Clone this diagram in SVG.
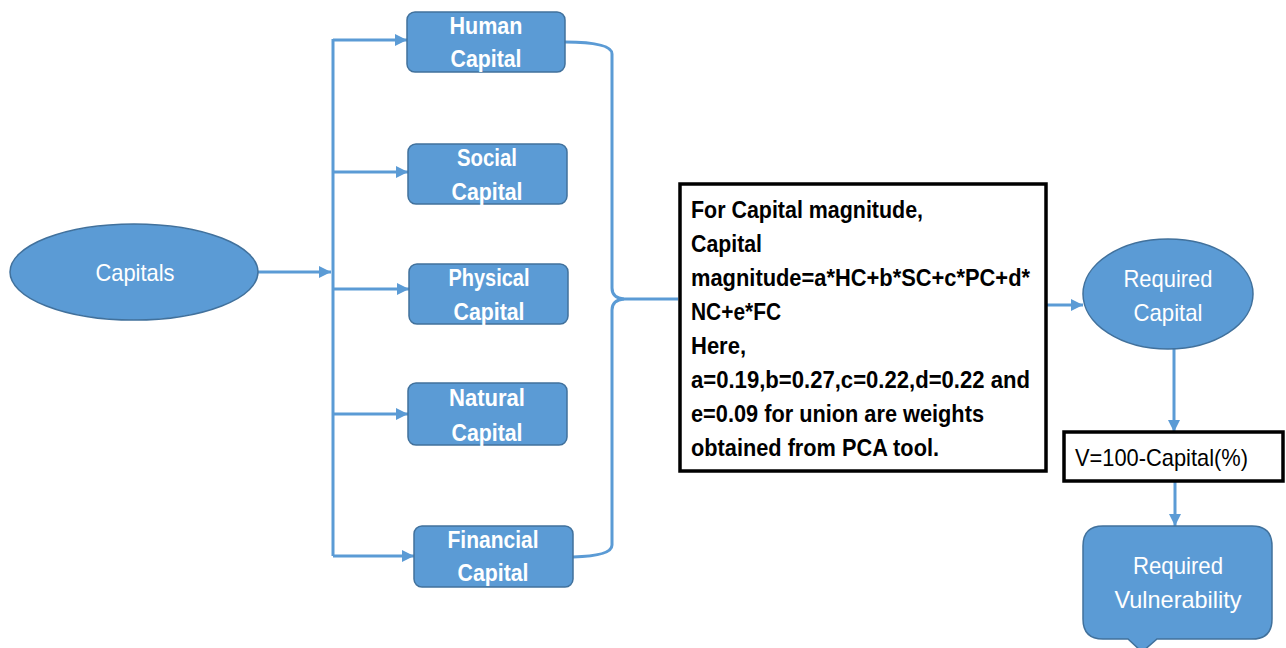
<svg xmlns="http://www.w3.org/2000/svg" width="1286" height="648" viewBox="0 0 1286 648">
<defs>
<marker id="ah" markerUnits="userSpaceOnUse" markerWidth="14" markerHeight="14" refX="12" refY="7" orient="auto">
<path d="M0,1 L12,7 L0,13 Z" fill="#5B9BD5"/>
</marker>
<style>
.node{fill:#5B9BD5;stroke:#41719C;stroke-width:1.5}
.box{fill:#fff;stroke:#000;stroke-width:3.5}
.con{fill:none;stroke:#5B9BD5;stroke-width:3}
.wb{font-family:"Liberation Sans",Arial,sans-serif;font-weight:bold;font-size:24px;fill:#fff;text-anchor:middle}
.wr{font-family:"Liberation Sans",Arial,sans-serif;font-size:24px;fill:#fff;text-anchor:middle}
.kb{font-family:"Liberation Sans",Arial,sans-serif;font-weight:bold;font-size:23.5px;fill:#000}
.kr{font-family:"Liberation Sans",Arial,sans-serif;font-size:24px;fill:#000}
</style>
</defs>
<rect width="1286" height="648" fill="#fff"/>
<g id="connectors">
<path class="con" d="M258,272 L331,272" marker-end="url(#ah)"/>
<path class="con" d="M333,39 L333,556"/>
<path class="con" d="M333,40 L407,40" marker-end="url(#ah)"/>
<path class="con" d="M333,172 L408,172" marker-end="url(#ah)"/>
<path class="con" d="M333,289 L409,289" marker-end="url(#ah)"/>
<path class="con" d="M333,414 L408,414" marker-end="url(#ah)"/>
<path class="con" d="M333,556 L414,556" marker-end="url(#ah)"/>
<path class="con" d="M565,42 Q612,42 612,54 L612,288 Q612,298 624,299 L678,299"/>
<path class="con" d="M573,557 Q612,556 612,545 L612,310 Q612,300 624,299"/>
<path class="con" d="M1046,305 L1083,305" marker-end="url(#ah)"/>
<path class="con" d="M1174,348 L1174,432" marker-end="url(#ah)"/>
<path class="con" d="M1175,482 L1175,526" marker-end="url(#ah)"/>
</g>
<g id="capitals">
<ellipse class="node" cx="134" cy="272" rx="124" ry="48"/>
<text class="wr" x="135" y="281" textLength="79" lengthAdjust="spacingAndGlyphs">Capitals</text>
</g>
<g id="human">
<rect class="node" x="407" y="12" width="158" height="60" rx="8"/>
<text class="wb" x="486" y="34" textLength="73" lengthAdjust="spacingAndGlyphs">Human</text>
<text class="wb" x="486" y="67" textLength="71" lengthAdjust="spacingAndGlyphs">Capital</text>
</g>
<g id="social">
<rect class="node" x="408" y="144" width="159" height="60" rx="8"/>
<text class="wb" x="487" y="166" textLength="60" lengthAdjust="spacingAndGlyphs">Social</text>
<text class="wb" x="487" y="200" textLength="71" lengthAdjust="spacingAndGlyphs">Capital</text>
</g>
<g id="physical">
<rect class="node" x="409" y="264" width="159" height="60" rx="8"/>
<text class="wb" x="489" y="286" textLength="81" lengthAdjust="spacingAndGlyphs">Physical</text>
<text class="wb" x="489" y="320" textLength="71" lengthAdjust="spacingAndGlyphs">Capital</text>
</g>
<g id="natural">
<rect class="node" x="408" y="383" width="159" height="62" rx="8"/>
<text class="wb" x="487" y="406" textLength="76" lengthAdjust="spacingAndGlyphs">Natural</text>
<text class="wb" x="487" y="441" textLength="71" lengthAdjust="spacingAndGlyphs">Capital</text>
</g>
<g id="financial">
<rect class="node" x="414" y="526" width="159" height="61" rx="8"/>
<text class="wb" x="493" y="548" textLength="91" lengthAdjust="spacingAndGlyphs">Financial</text>
<text class="wb" x="493" y="581" textLength="71" lengthAdjust="spacingAndGlyphs">Capital</text>
</g>
<g id="formula">
<rect class="box" x="680" y="184" width="366" height="287"/>
<text class="kb" x="691" y="218" textLength="232" lengthAdjust="spacingAndGlyphs">For Capital magnitude,</text>
<text class="kb" x="691" y="252" textLength="71" lengthAdjust="spacingAndGlyphs">Capital</text>
<text class="kb" x="691" y="286" textLength="339" lengthAdjust="spacingAndGlyphs">magnitude=a*HC+b*SC+c*PC+d*</text>
<text class="kb" x="691" y="320" textLength="90" lengthAdjust="spacingAndGlyphs">NC+e*FC</text>
<text class="kb" x="691" y="354" textLength="55" lengthAdjust="spacingAndGlyphs">Here,</text>
<text class="kb" x="691" y="388" textLength="339" lengthAdjust="spacingAndGlyphs">a=0.19,b=0.27,c=0.22,d=0.22 and</text>
<text class="kb" x="691" y="422" textLength="293" lengthAdjust="spacingAndGlyphs">e=0.09 for union are weights</text>
<text class="kb" x="691" y="456" textLength="248" lengthAdjust="spacingAndGlyphs">obtained from PCA tool.</text>
</g>
<g id="required-capital">
<ellipse class="node" cx="1168" cy="294" rx="85" ry="55"/>
<text class="wr" x="1168" y="287" textLength="89" lengthAdjust="spacingAndGlyphs">Required</text>
<text class="wr" x="1168" y="321" textLength="69" lengthAdjust="spacingAndGlyphs">Capital</text>
</g>
<g id="vformula">
<rect class="box" x="1064" y="432" width="219" height="49"/>
<text class="kr" x="1075" y="466" textLength="173" lengthAdjust="spacingAndGlyphs">V=100-Capital(%)</text>
</g>
<g id="required-vulnerability">
<path class="node" d="M1103,526 L1252,526 Q1272,526 1272,546 L1272,619 Q1272,639 1252,639 L1157,639 L1142,652 L1128,639 L1103,639 Q1083,639 1083,619 L1083,546 Q1083,526 1103,526 Z"/>
<text class="wr" x="1178" y="574" textLength="90" lengthAdjust="spacingAndGlyphs">Required</text>
<text class="wr" x="1178" y="608" textLength="127" lengthAdjust="spacingAndGlyphs">Vulnerability</text>
</g>
</svg>
